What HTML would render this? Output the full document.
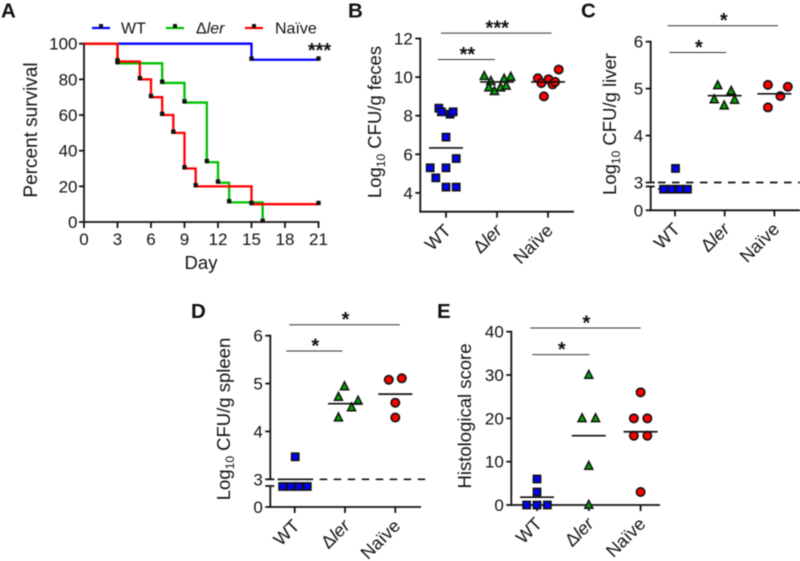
<!DOCTYPE html>
<html lang="en">
<head>
<meta charset="utf-8">
<title>Survival and bacterial load figure</title>
<style>
html,body{margin:0;padding:0;background:#fff;}
body{width:800px;height:561px;overflow:hidden;}
svg{display:block;font-family:"Liberation Sans",sans-serif;fill:#111;filter:blur(0.4px);}
.title{font-size:18.5px;}
.letter{font-size:20.5px;font-weight:bold;}
.tick{font-size:17px;}
.xcat{font-size:18px;}
.legend{font-size:16px;}
.star{font-size:20px;font-weight:bold;text-anchor:middle;}
</style>
</head>
<body>
<svg id="figure" width="800" height="561" viewBox="0 0 800 561" xmlns="http://www.w3.org/2000/svg">
  <text class="letter" x="1" y="17.5">A</text>
  <text class="letter" x="348" y="17.5">B</text>
  <text class="letter" x="581" y="17.5">C</text>
  <text class="letter" x="191" y="318">D</text>
  <text class="letter" x="437" y="318">E</text>

  <text class="title" style="font-size:19px" text-anchor="middle" transform="translate(37,130) rotate(-90)">Percent survival</text>
  <text class="title" text-anchor="middle" x="201" y="269">Day</text>
  <text class="title" text-anchor="middle" transform="translate(381,122) rotate(-90)">Log<tspan font-size="12" dy="4">10</tspan><tspan dy="-4"> CFU/g feces</tspan></text>
  <text class="title" text-anchor="middle" transform="translate(616,124) rotate(-90)">Log<tspan font-size="12" dy="4">10</tspan><tspan dy="-4"> CFU/g liver</tspan></text>
  <text class="title" text-anchor="middle" transform="translate(230,419) rotate(-90)">Log<tspan font-size="12" dy="4">10</tspan><tspan dy="-4"> CFU/g spleen</tspan></text>
  <text class="title" text-anchor="middle" transform="translate(471,416) rotate(-90)">Histological score</text>

  <g>
    <line x1="92" x2="110" y1="28" y2="28" stroke="#0000ff" stroke-width="2.2"/>
    <rect x="99" y="24" width="4" height="4" fill="#111"/>
    <text class="legend" x="121" y="33.5">WT</text>
    <line x1="166" x2="184" y1="28" y2="28" stroke="#00c000" stroke-width="2.2"/>
    <rect x="173" y="24" width="4" height="4" fill="#111"/>
    <text class="legend" x="196" y="33.5">Δ<tspan font-style="italic">ler</tspan></text>
    <line x1="245" x2="263" y1="28" y2="28" stroke="#ff0000" stroke-width="2.2"/>
    <rect x="252" y="24" width="4" height="4" fill="#111"/>
    <text class="legend" x="275" y="33.5">Naïve</text>
  </g>
  <text class="star" x="319.5" y="57">***</text>
</svg>
<script>
// Panel A: Kaplan-Meier steps
var survivalDayTicks = [0, 3, 6, 9, 12, 15, 18, 21];
var survivalPercentTicks = [0, 20, 40, 60, 80, 100];
var wtDays = [0, 15, 21];
var wtSurvival = [100, 91, 91];
var lerDays = [0, 3, 7, 9, 11, 12, 13, 16];
var lerSurvival = [100, 89, 78, 67, 33.5, 22, 11, 0];
var naiveDays = [0, 3, 5, 6, 7, 8, 9, 10, 15, 21];
var naiveSurvival = [100, 90, 80, 70, 60, 50, 30, 20, 10, 10];

// Shared groups
var groupNames = ['WT', 'ler', 'Naïve'];

// Panel B: feces
var fecesTicks = [4, 6, 8, 10, 12];
var fecesWt = [8.39, 8.2, 8.08, 8.2, 6.89, 5.78, 5.3, 5.3, 4.78, 4.3, 4.3];
var fecesWtDodge = [-0.14, -0.09, 0.08, 0.14, 0, 0.2, -0.31, 0, -0.2, 0, 0.2];
var fecesLer = [10.05, 9.79, 9.46, 9.27, 9.46, 9.91, 9.55, 10.01];
var fecesLerDodge = [-0.25, -0.12, -0.16, -0.05, 0.07, 0.14, 0.18, 0.27];
var fecesNaive = [9.94, 9.69, 9.89, 9.62, 9.75, 10.39, 9.0];
var fecesNaiveDodge = [-0.2, -0.13, 0.01, 0.09, 0.14, 0.21, -0.08];
var fecesMeans = [6.33, 9.75, 9.75];

// Panel C: liver
var liverTicks = [0, 3, 4, 5, 6];
var liverWt = [3.3, 2.8, 2.8, 2.8, 2.8];
var liverWtDodge = [0.01, -0.23, -0.07, 0.09, 0.25];
var liverLer = [5.07, 4.95, 4.77, 4.76, 4.64];
var liverLerDodge = [-0.14, 0.13, -0.21, 0.2, -0.01];
var liverNaive = [5.08, 5.04, 4.84, 4.6];
var liverNaiveDodge = [-0.13, 0.27, 0.12, -0.13];
var liverMeans = [2.85, 4.85, 4.89];

// Panel D: spleen
var spleenTicks = [0, 3, 4, 5, 6];
var spleenWt = [3.47, 2.8, 2.8, 2.8, 2.8];
var spleenWtDodge = [0.01, -0.24, -0.08, 0.08, 0.25];
var spleenLer = [4.94, 4.72, 4.64, 4.5, 4.29];
var spleenLerDodge = [-0.01, -0.13, 0.26, 0.13, -0.13];
var spleenNaive = [5.08, 5.11, 4.6, 4.29];
var spleenNaiveDodge = [-0.13, 0.13, 0, 0];
var spleenMeans = [3.0, 4.58, 4.78];

// Panel E: histology
var histologyTicks = [0, 10, 20, 30, 40];
var histologyWt = [6, 3, 0, 0, 0];
var histologyWtDodge = [0, 0, -0.2, 0, 0.2];
var histologyLer = [30, 20, 20, 9, 0];
var histologyLerDodge = [0, -0.13, 0.13, 0, 0];
var histologyNaive = [26, 20, 20, 16, 16, 3];
var histologyNaiveDodge = [0, -0.13, 0.13, -0.13, 0.13, 0];
var histologyMeans = [1.8, 16, 16.9];

var NS = 'http://www.w3.org/2000/svg';
var svg = document.getElementById('figure');
var AXIS_W = 1.8;

function mk(tag, attrs, parent) {
  var e = document.createElementNS(NS, tag);
  for (var k in attrs) { e.setAttribute(k, attrs[k]); }
  (parent || svg).appendChild(e);
  return e;
}

function addLine(parent, x1, y1, x2, y2, width, color, name) {
  var l = mk('line', {x1: x1, y1: y1, x2: x2, y2: y2, stroke: color || '#111', 'stroke-width': width || AXIS_W}, parent);
  
  
  return l;
}

function addTickLabel(parent, x, y, anchor, value, name) {
  var t = mk('text', {x: x, y: y, 'text-anchor': anchor, 'class': 'tick'}, parent);
  t.textContent = value;
  
  
  return t;
}

/* ---------- Panel A ---------- */
function drawSurvival() {
  var g = mk('g', {}, svg);
  
  
  var xs = function (d) { return 84 + d * (318.5 - 84) / 21; };
  var ys = function (p) { return 222 - p * (222 - 43.7) / 100; };
  addLine(g, xs(0), ys(100) - 0.9, xs(0), ys(0) + 0.9, AXIS_W, '#111', 'survival-y-axis');
  addLine(g, xs(0) - 0.9, ys(0), xs(21) + 0.9, ys(0), AXIS_W, '#111', 'survival-x-axis');
  survivalPercentTicks.forEach(function (p) {
    addLine(g, xs(0) - 5, ys(p), xs(0), ys(p), AXIS_W, '#111', 'survival-y-tick');
    addTickLabel(g, xs(0) - 6.5, ys(p) + 6, 'end', String(p), 'survival-y-tick-label');
  });
  survivalDayTicks.forEach(function (d) {
    addLine(g, xs(d), ys(0), xs(d), ys(0) + 6, AXIS_W, '#111', 'survival-x-tick');
    addTickLabel(g, xs(d), 245, 'middle', String(d), 'survival-x-tick-label');
  });
  function series(days, vals, color, name) {
    var d = 'M' + xs(days[0]) + ' ' + ys(vals[0]);
    for (var i = 1; i < days.length; i++) {
      d += 'H' + xs(days[i]) + 'V' + ys(vals[i]);
    }
    var p = mk('path', {d: d, fill: 'none', stroke: color, 'stroke-width': 2.3}, g);
    
    
    for (var j = 1; j < days.length; j++) {
      var m = mk('rect', {x: xs(days[j]) - 2.2, y: ys(vals[j]) - 3.4, width: 4.4, height: 4.4, fill: '#111'}, g);
      
      
    }
  }
  series(wtDays, wtSurvival, '#0000ff', 'wt');
  series(lerDays, lerSurvival, '#00c000', 'ler');
  series(naiveDays, naiveSurvival, '#ff0000', 'naive');
}

/* ---------- Scatter panels ---------- */
function drawMarker(g, shape, cx, cy, name) {
  var m;
  if (shape === 'square') {
    m = mk('rect', {x: cx - 3.6, y: cy - 3.6, width: 7.2, height: 7.2, fill: '#0000ff', stroke: '#111', 'stroke-width': 1.6}, g);
  } else if (shape === 'triangle') {
    m = mk('polygon', {points: (cx) + ',' + (cy - 4.6) + ' ' + (cx + 4) + ',' + (cy + 3.3) + ' ' + (cx - 4) + ',' + (cy + 3.3), fill: '#00a800', stroke: '#111', 'stroke-width': 1.5}, g);
  } else {
    m = mk('circle', {cx: cx, cy: cy, r: 4.2, fill: '#ff0000', stroke: '#111', 'stroke-width': 1.6}, g);
  }
  
  
}

function drawPanel(o) {
  var g = mk('g', {}, svg);
  
  
  var xs = function (i) { return o.cat0 + i * o.catStep; };
  var ys = o.yScale;
  var keys = ['wt', 'ler', 'naive'];
  var shapes = ['square', 'triangle', 'circle'];

  // axis
  if (o.breakTop !== undefined) {
    addLine(g, o.axisX, ys(o.topVal) - 0.9, o.axisX, ys(3), AXIS_W, '#111', o.name + '-y-axis-upper');
    addLine(g, o.axisX, o.breakTop, o.axisX, o.axisY, AXIS_W, '#111', o.name + '-y-axis-lower');
    addLine(g, o.axisX - 5, o.breakTop, o.axisX + 4, o.breakTop, AXIS_W, '#111', o.name + '-axis-break-tick');
  } else {
    addLine(g, o.axisX, ys(o.topVal) - 0.9, o.axisX, o.axisY + 0.9, AXIS_W, '#111', o.name + '-y-axis');
  }
  addLine(g, o.axisX - 0.9, o.axisY, o.xEnd, o.axisY, AXIS_W, '#111', o.name + '-x-axis');

  o.ticks.forEach(function (t) {
    addLine(g, o.axisX - 5, ys(t), o.axisX + (o.breakTop !== undefined && t === 3 ? 4 : 0), ys(t), AXIS_W, '#111', o.name + '-y-tick');
    addTickLabel(g, o.axisX - 7.5, ys(t) + 6, 'end', String(t), o.name + '-y-tick-label');
  });

  groupNames.forEach(function (label, i) {
    addLine(g, xs(i), o.axisY, xs(i), o.axisY + 6, AXIS_W, '#111', o.name + '-x-tick');
    var ax = xs(i) + 6, ay = o.axisY + 20;
    var t = mk('text', {'class': 'xcat', 'text-anchor': 'end', transform: 'translate(' + ax + ',' + ay + ') rotate(-45)'}, g);
    if (label === 'ler') {
      t.appendChild(document.createTextNode('Δ'));
      var it = mk('tspan', {'font-style': 'italic'}, t);
      it.textContent = 'ler';
    } else {
      t.textContent = label;
    }
    
    
  });

  if (o.dashEnd) {
    var dl = addLine(g, xs(0) - 17, ys(3), o.dashEnd, ys(3), 1.7, '#111', o.name + '-detection-limit-line');
    dl.setAttribute('stroke-dasharray', '7.5 6.5');
  }

  // a group mean under the detection limit sits hidden behind the marker row
  o.means.forEach(function (mv, i) {
    if (o.breakTop !== undefined && mv < 3) {
      addLine(g, xs(i) - 17, ys(mv), xs(i) + 17, ys(mv), 1.7, '#111', o.name + '-' + keys[i] + '-mean-line');
    }
  });

  o.series.forEach(function (s, i) {
    s.values.forEach(function (v, k) {
      drawMarker(g, shapes[i], xs(i + s.dodge[k]), ys(v), o.name + '-' + keys[i] + '-point');
    });
  });

  o.means.forEach(function (mv, i) {
    if (!(o.breakTop !== undefined && mv < 3)) {
      addLine(g, xs(i) - 17, ys(mv), xs(i) + 17, ys(mv), 1.7, '#111', o.name + '-' + keys[i] + '-mean-line');
    }
  });

  o.brackets.forEach(function (b) {
    addLine(g, xs(b.from), ys(b.at), xs(b.to), ys(b.at), 1, '#333', o.name + '-significance-bar');
    var st = mk('text', {'class': 'star', x: (xs(b.from) + xs(b.to)) / 2 + 1, y: ys(b.at) + 1.5}, g);
    st.textContent = b.label;
    
    
  });
}

function brokenScale(y0, y28, y3, y6) {
  return function (v) {
    if (v >= 3) { return y3 - (v - 3) * (y3 - y6) / 3; }
    return y0 - v * (y0 - y28) / 2.8;
  };
}

drawSurvival();

drawPanel({
  name: 'feces', axisX: 420.3, axisY: 211.7, xEnd: 574, cat0: 446, catStep: 51, topVal: 12,
  yScale: function (v) { return 38.5 + (12 - v) * 19.3; },
  ticks: fecesTicks, means: fecesMeans,
  series: [{values: fecesWt, dodge: fecesWtDodge}, {values: fecesLer, dodge: fecesLerDodge}, {values: fecesNaive, dodge: fecesNaiveDodge}],
  brackets: [{from: -0.1, to: 2.07, at: 12.28, label: '***'}, {from: -0.16, to: 0.96, at: 10.91, label: '**'}]
});
drawPanel({
  name: 'liver', axisX: 650.7, axisY: 210.3, xEnd: 800, cat0: 675, catStep: 49.7, topVal: 6, breakTop: 186.5, dashEnd: 800,
  yScale: brokenScale(210.3, 189.2, 182.5, 41.7),
  ticks: liverTicks, means: liverMeans,
  series: [{values: liverWt, dodge: liverWtDodge}, {values: liverLer, dodge: liverLerDodge}, {values: liverNaive, dodge: liverNaiveDodge}],
  brackets: [{from: -0.15, to: 2.07, at: 6.34, label: '*'}, {from: -0.11, to: 1.03, at: 5.77, label: '*'}]
});
drawPanel({
  name: 'spleen', axisX: 270.3, axisY: 507, xEnd: 421, cat0: 294.7, catStep: 50.3, topVal: 6, breakTop: 486, dashEnd: 427,
  yScale: brokenScale(507, 486.5, 479.3, 335.7),
  ticks: spleenTicks, means: spleenMeans,
  series: [{values: spleenWt, dodge: spleenWtDodge}, {values: spleenLer, dodge: spleenLerDodge}, {values: spleenNaive, dodge: spleenNaiveDodge}],
  brackets: [{from: -0.11, to: 2.09, at: 6.23, label: '*'}, {from: -0.17, to: 0.95, at: 5.68, label: '*'}]
});
drawPanel({
  name: 'histology', axisX: 511.3, axisY: 505, xEnd: 660, cat0: 537, catStep: 51.8, topVal: 40,
  yScale: function (v) { return 505 - v * 4.333; },
  ticks: histologyTicks, means: histologyMeans,
  series: [{values: histologyWt, dodge: histologyWtDodge}, {values: histologyLer, dodge: histologyLerDodge}, {values: histologyNaive, dodge: histologyNaiveDodge}],
  brackets: [{from: -0.13, to: 2.0, at: 40.85, label: '*'}, {from: -0.09, to: 1.01, at: 34.7, label: '*'}]
});
</script>
</body>
</html>
